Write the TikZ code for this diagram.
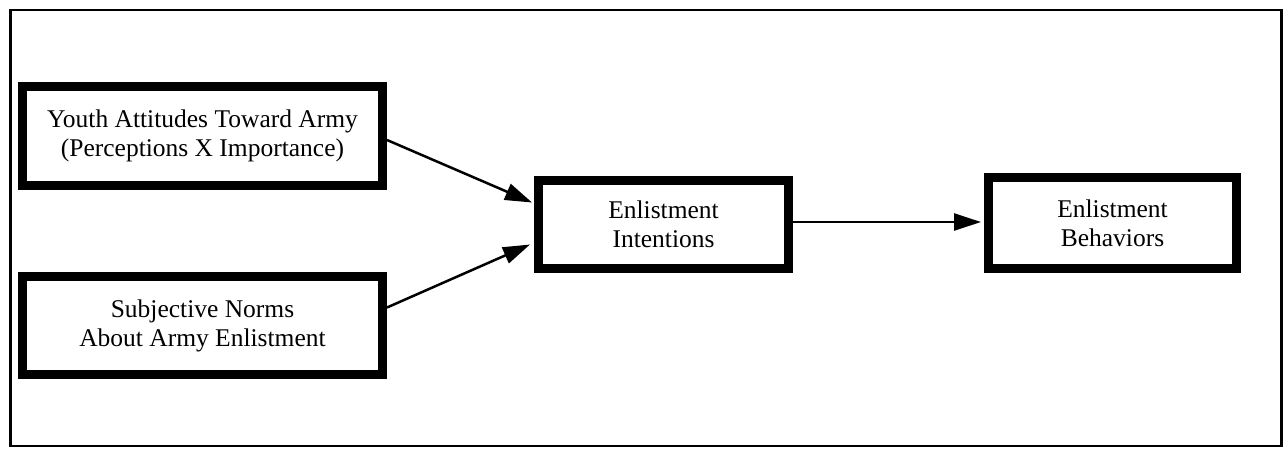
\documentclass[tikz,border=0pt]{standalone}
\usepackage{fontspec}
\setmainfont{Liberation Serif}
\usetikzlibrary{arrows.meta}
\begin{document}
\begin{tikzpicture}[x=1pt,y=-1pt,
  box/.style={draw, line width=9pt, rectangle, align=center, inner sep=0pt,
    font=\fontsize{25.5pt}{29pt}\selectfont},
  conn/.style={line width=2.5pt, -{Triangle[length=27pt,width=17pt]}}]
\useasboundingbox (0,0) rectangle (1284,448);
\draw[line width=2.5pt] (10.5,10) rectangle (1281.5,446);
\node[box, minimum width=360pt, minimum height=99pt] (b1) at (202.5,136) {Youth Attitudes Toward Army\\(Perceptions X Importance)};
\node[box, minimum width=360pt, minimum height=98pt] (b2) at (202.5,325.5) {Subjective Norms\\About Army Enlistment};
\node[box, minimum width=250pt, minimum height=88pt] (b3) at (663.5,224.5) {Enlistment\\Intentions};
\node[box, minimum width=248pt, minimum height=91pt] (b4) at (1112.5,223) {Enlistment\\Behaviors};
\draw[conn] ([yshift=-4pt]b1.east) -- ([yshift=22pt,xshift=-2pt]b3.west);
\draw[conn] ([yshift=18pt]b2.east) -- ([yshift=-20pt,xshift=-4pt]b3.west);
\draw[conn] ([yshift=2.5pt]b3.east) -- ([xshift=-3pt,yshift=1pt]b4.west);
\end{tikzpicture}
\end{document}
